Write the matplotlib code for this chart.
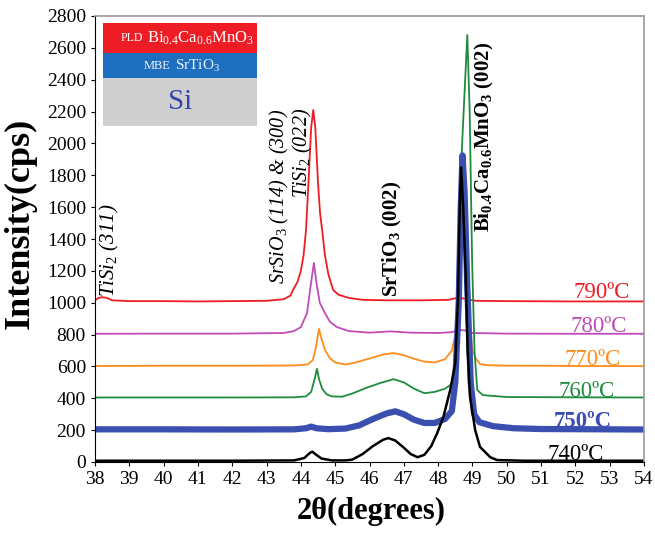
import matplotlib.pyplot as plt
from matplotlib.patches import Rectangle

plt.rcParams["font.family"] = "Liberation Serif"
plt.rcParams["mathtext.fontset"] = "custom"
plt.rcParams["mathtext.rm"] = "Liberation Serif"
plt.rcParams["mathtext.it"] = "Liberation Serif:italic"
plt.rcParams["mathtext.bf"] = "Liberation Serif:bold"

# XRD scans, 2theta (deg) vs intensity (cps), offset by growth temperature
tt_790 = [38.0, 38.1, 38.2, 38.35, 38.5, 39.0, 40.0, 41.0, 42.0, 43.0,
          43.5, 43.7, 43.77, 43.9, 44.0, 44.08, 44.15, 44.22, 44.3, 44.36,
          44.42, 44.5, 44.56, 44.62, 44.7, 44.8, 44.94, 45.1, 45.4, 45.8,
          46.5, 47.5, 48.3, 48.55, 48.7, 48.85, 49.1, 50.0, 52.0, 54.0]
cps_790 = [1015, 1030, 1035, 1030, 1015, 1010, 1010, 1008, 1010, 1012,
           1022, 1045, 1080, 1130, 1200, 1300, 1456, 1750, 2100, 2210,
           2100, 1750, 1560, 1456, 1300, 1180, 1080, 1050, 1030, 1018,
           1015, 1015, 1018, 1030, 1028, 1020, 1012, 1010, 1008, 1008]

tt_780 = [38.0, 40.0, 42.0, 43.5, 43.8, 44.0, 44.18, 44.28, 44.38, 44.45,
          44.55, 44.7, 44.85, 45.05, 45.4, 46.0, 46.6, 47.2, 48.0, 48.4,
          48.6, 48.8, 49.0, 50.0, 52.0, 54.0]
cps_780 = [805, 806, 806, 810, 822, 847, 935, 1100, 1250, 1130,
           1000, 935, 880, 847, 822, 812, 820, 812, 810, 815,
           830, 825, 810, 806, 805, 805]

tt_770 = [38.0, 40.0, 42.0, 43.8, 44.2, 44.35, 44.44, 44.5, 44.53, 44.58,
          44.65, 44.71, 44.85, 45.0, 45.3, 45.6, 46.0, 46.4, 46.7, 47.0,
          47.3, 47.6, 47.9, 48.2, 48.4, 48.55, 48.65, 48.75, 48.8, 48.87,
          48.93, 49.0, 49.1, 49.22, 49.4, 50.0, 52.0, 54.0]
cps_770 = [603, 604, 604, 606, 612, 640, 722, 800, 835, 790,
           740, 700, 650, 625, 612, 625, 650, 675, 684, 670,
           648, 630, 625, 645, 700, 850, 1200, 1550, 1645, 1300,
           850, 700, 650, 615, 608, 605, 603, 602]

tt_760 = [38.0, 40.0, 42.0, 43.8, 44.15, 44.3, 44.4, 44.47, 44.53, 44.62,
          44.75, 44.9, 45.2, 45.5, 45.9, 46.3, 46.7, 47.0, 47.3, 47.6,
          47.9, 48.2, 48.4, 48.5, 48.58, 48.7, 48.85, 48.92, 48.99, 49.06,
          49.14, 49.3, 50.0, 52.0, 54.0]
cps_760 = [405, 405, 405, 406, 412, 440, 520, 585, 520, 460,
           425, 412, 410, 430, 465, 495, 520, 500, 460, 432,
           440, 460, 490, 620, 1268, 2002, 2680, 2200, 1268, 700,
           452, 420, 408, 406, 405]

tt_750 = [38.0, 40.0, 42.0, 43.8, 44.15, 44.3, 44.45, 44.8, 45.3, 45.7,
          46.1, 46.5, 46.75, 47.0, 47.3, 47.6, 47.9, 48.2, 48.4, 48.5,
          48.6, 48.66, 48.71, 48.77, 48.85, 48.95, 49.05, 49.2, 49.6, 50.2,
          51.0, 54.0]
cps_750 = [205, 205, 204, 205, 212, 222, 212, 206, 210, 230,
           270, 305, 318, 300, 265, 245, 245, 270, 320, 500,
           1000, 1600, 1925, 1700, 1100, 500, 300, 250, 225, 212,
           207, 204]

tt_740 = [38.0, 40.0, 42.0, 43.8, 44.1, 44.25, 44.33, 44.45, 44.6, 44.9,
          45.3, 45.5, 45.8, 46.1, 46.4, 46.55, 46.75, 47.0, 47.2, 47.4,
          47.6, 47.8, 47.97, 48.15, 48.35, 48.5, 48.58, 48.63, 48.67, 48.73,
          48.8, 48.86, 48.93, 49.08, 49.22, 49.52, 49.72, 50.5, 52.0, 54.0]
cps_740 = [8, 8, 8, 10, 25, 55, 65, 45, 22, 10,
           10, 15, 50, 100, 140, 150, 135, 90, 50, 30,
           45, 100, 180, 280, 450, 620, 1035, 1600, 1850, 1600,
           1200, 700, 408, 200, 95, 30, 12, 8, 8, 8]

temps = ["790ºC", "780ºC", "770ºC", "760ºC", "750ºC", "740ºC"]
label_cps = [1030, 816, 609, 408, 220, 13]
label_tt = [53.6, 53.5, 53.33, 53.15, 53.05, 52.82]

colors = ["#ee1c24", "#c04cb8", "#ff8c1a", "#1e8c3c", "#3a4fb0", "black"]
widths = [1.3, 1.3, 1.3, 1.3, 4.5, 1.8]
scans = [(tt_790, cps_790), (tt_780, cps_780), (tt_770, cps_770),
         (tt_760, cps_760), (tt_750, cps_750), (tt_740, cps_740)]

fig = plt.figure(figsize=(6.55, 5.35), dpi=100)
ax = fig.add_axes([95 / 655, 73 / 535, 549 / 655, 446 / 535])

for (tt, cps), c, lw in zip(scans, colors, widths):
    ax.plot(tt, cps, color=c, lw=lw)

for t, x, y, c in zip(temps, label_tt, label_cps, colors):
    ax.text(x, y, t, color=c, fontsize=16.5, ha="right", va="baseline",
            fontweight="bold" if t == "750ºC" else "normal")

# peak assignments
ax.text(38.41, 1036, r"TiSi$_\mathit{2}$ (311)", rotation=90, fontsize=15,
        style="italic", ha="center", va="bottom")
ax.text(43.37, 2215, r"SrSiO$_\mathit{3}$ (114) & (300)", rotation=90,
        fontsize=14.5, style="italic", ha="center", va="top")
ax.text(44.04, 2225, r"TiSi$_\mathit{2}$ (022)", rotation=90, fontsize=14.5,
        style="italic", ha="center", va="top")
ax.text(46.66, 1036, r"SrTiO$_\mathbf{3}$ (002)", rotation=90, fontsize=15,
        fontweight="bold", ha="center", va="bottom")
ax.text(49.34, 1444, r"Bi$_\mathbf{0.4}$Ca$_\mathbf{0.6}$MnO$_\mathbf{3}$ (002)",
        rotation=90, fontsize=15, fontweight="bold", ha="center", va="bottom")

# layer stack sketch
stack = [(0.917, 0.067, "#ee1c24"), (0.861, 0.056, "#1e6fc0"),
         (0.753, 0.108, "#cfcfcf")]
for y0, h, c in stack:
    ax.add_patch(Rectangle((0.0146, y0), 0.28, h, transform=ax.transAxes,
                           facecolor=c, edgecolor="none", zorder=5))
ax.text(0.087, 0.95, "PLD", transform=ax.transAxes, fontsize=8.5,
        color="white", ha="right", va="center", zorder=6)
ax.text(0.095, 0.95, r"Bi$_{0.4}$Ca$_{0.6}$MnO$_3$", transform=ax.transAxes,
        fontsize=12, color="white", ha="left", va="center", zorder=6)
ax.text(0.138, 0.888, "MBE", transform=ax.transAxes, fontsize=9,
        color="#eef2ff", ha="right", va="center", zorder=6)
ax.text(0.146, 0.888, r"SrTiO$_3$", transform=ax.transAxes, fontsize=11,
        color="#eef2ff", ha="left", va="center", zorder=6)
ax.text(0.155, 0.807, "Si", transform=ax.transAxes, fontsize=21,
        color="#3544a8", ha="center", va="center", zorder=6)

ax.set_xlim(38, 54)
ax.set_ylim(0, 2800)
ax.set_xticks(range(38, 55))
ax.set_yticks(range(0, 2801, 200))
ax.tick_params(labelsize=14, direction="out", length=3, width=0.8)
for side in ["top", "right"]:
    ax.spines[side].set_color("#999999")
    ax.spines[side].set_linewidth(1.2)

ax.set_xlabel("2θ(degrees)", fontsize=22, fontweight="bold")
ax.set_ylabel("Intensity(cps)", fontsize=26, fontweight="bold")
ax.xaxis.set_label_coords(0.503, -0.078)
ax.yaxis.set_label_coords(-0.106, 0.535)

fig.savefig("out.png", dpi=100)
